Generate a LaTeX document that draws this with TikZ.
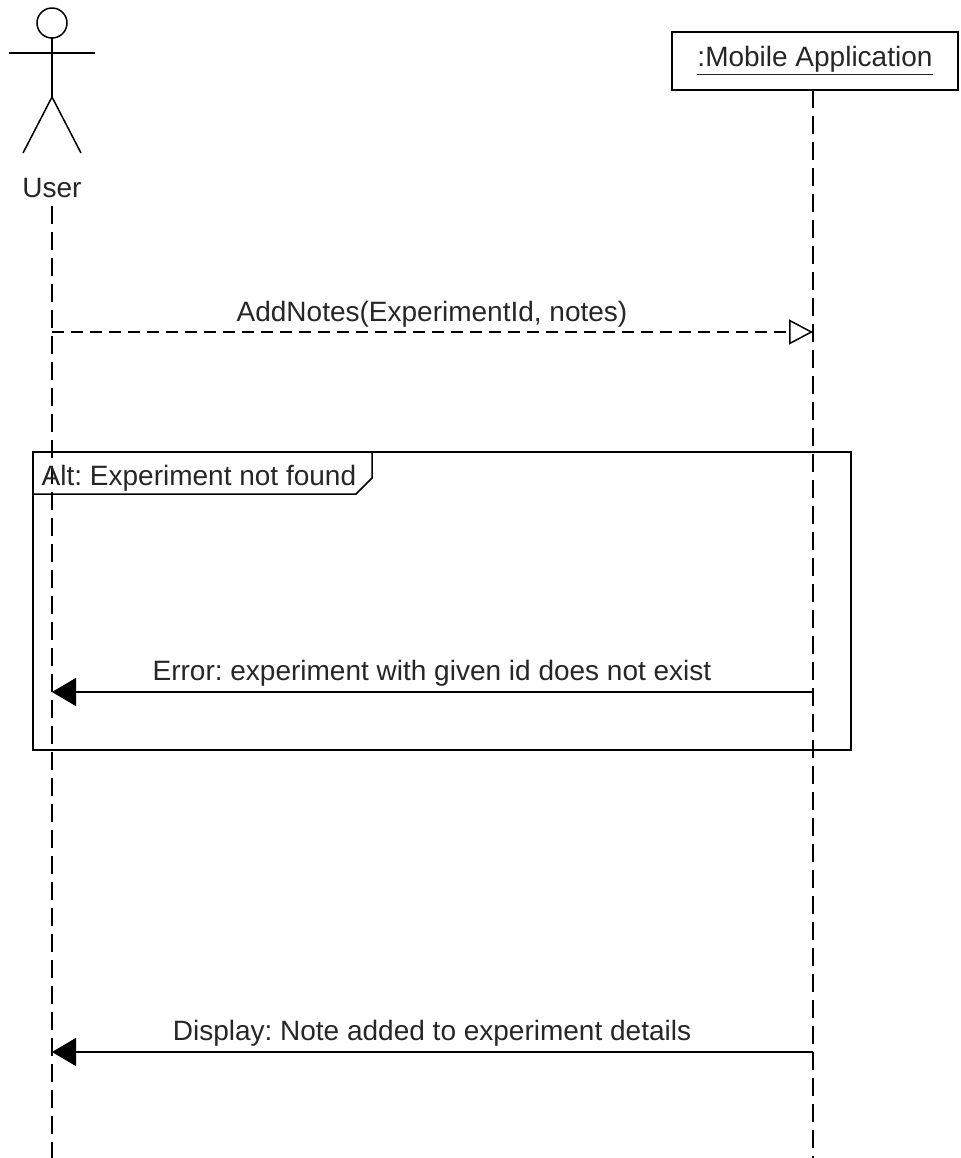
\documentclass[tikz,border=0pt]{standalone}
\usepackage{fontspec}
\setmainfont{Liberation Sans}
\usetikzlibrary{arrows.meta}
\frenchspacing
\begin{document}
\begin{tikzpicture}[x=0.5pt,y=-0.5pt,
  line width=0.75pt,
  every node/.style={font=\fontsize{14}{16}\selectfont, inner sep=0pt, text=black!85},
  lifeline/.style={dash pattern=on 9pt off 4pt},
  asyncmsg/.style={dash pattern=on 6pt off 3.5pt, -{Triangle[open, length=12pt, width=12.5pt]}},
  syncmsg/.style={-{Triangle[length=12pt, width=14pt]}},
  msglabel/.style={anchor=center},
  objbox/.style={draw, minimum width=143pt, minimum height=29pt, inner sep=0pt}]
\useasboundingbox (0,0) rectangle (961,1158);

% actor "User"
\coordinate (head) at (52,23);
\coordinate (neck) at (52,38);
\coordinate (hip) at (52,97);
\coordinate (armL) at (9,53);
\coordinate (armR) at (95,53);
\coordinate (footL) at (23,153);
\coordinate (footR) at (81,153);
\draw (head) circle[radius=7.5pt];
\draw (neck) -- (hip);
\draw (armL) -- (armR);
\draw (footL) -- (hip) -- (footR);
\node (user) at (52,188) {User};

% object box
\node[objbox] (app) at (815,61) {\underline{:Mobile Application}};

% lifelines
\coordinate (userTop) at (52,206);
\coordinate (userEnd) at (52,1158);
\coordinate (appTop) at (813,90);
\coordinate (appEnd) at (813,1158);
\draw[lifeline] (userTop) -- (userEnd);
\draw[lifeline] (appTop) -- (appEnd);

% message 1 (asynchronous)
\coordinate (m1s) at (52,332);
\coordinate (m1e) at (813,332);
\draw[asyncmsg] (m1s) -- (m1e);
\node[msglabel] (m1l) at (432,314) {AddNotes(ExperimentId, notes)};

% alt fragment
\coordinate (fTL) at (33,452);
\coordinate (fBR) at (851,750);
\draw (fTL) rectangle (fBR);
\coordinate (tabA) at (33,494);
\coordinate (tabB) at (356,494);
\coordinate (tabC) at (372,478);
\coordinate (tabD) at (372,452);
\draw (tabA) -- (tabB) -- (tabC) -- (tabD);
\node[anchor=west] (altl) at (41,478) {Alt: Experiment not found};

% message 2
\coordinate (m2s) at (813,692);
\coordinate (m2e) at (52,692);
\draw[syncmsg] (m2s) -- (m2e);
\node[msglabel] (m2l) at (432,673) {Error: experiment with given id does not exist};

% message 3
\coordinate (m3s) at (813,1052);
\coordinate (m3e) at (52,1052);
\draw[syncmsg] (m3s) -- (m3e);
\node[msglabel] (m3l) at (432,1033) {Display: Note added to experiment details};
\end{tikzpicture}
\end{document}
